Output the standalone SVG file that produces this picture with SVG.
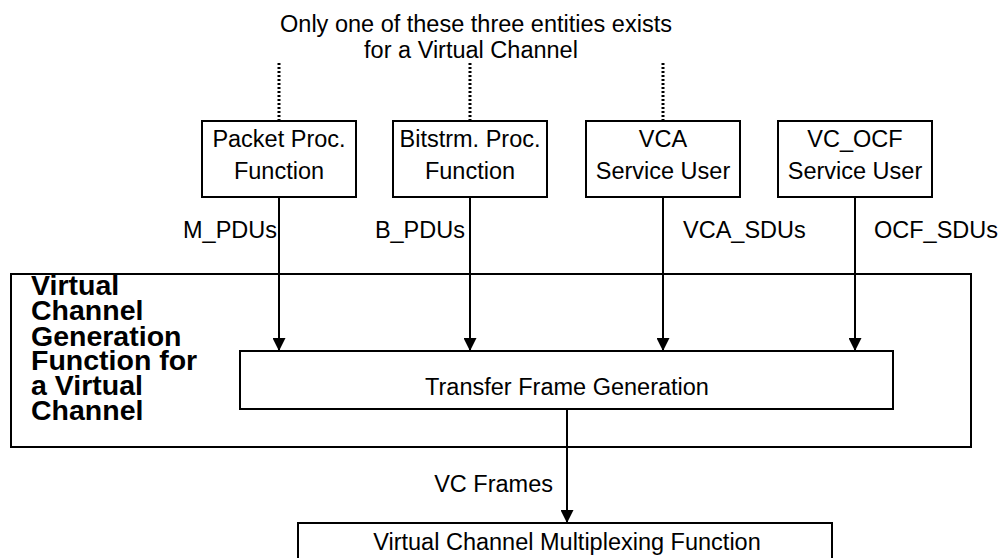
<svg xmlns="http://www.w3.org/2000/svg" width="1002" height="558" viewBox="0 0 1002 558">
<defs>
<style>
.box{fill:#fff;stroke:#000;stroke-width:2}
.t{font-family:"Liberation Sans",Arial,sans-serif;font-size:23.5px;fill:#000;text-anchor:middle}
.lbl{font-family:"Liberation Sans",Arial,sans-serif;font-size:23.5px;fill:#000}
.b{font-family:"Liberation Sans",Arial,sans-serif;font-size:28.5px;font-weight:bold;fill:#000}
.ln{stroke:#000;stroke-width:2;fill:none}
.dot{stroke:#000;stroke-width:3;stroke-dasharray:2 2;fill:none}
</style>
<marker id="ah" viewBox="0 0 13 13" refX="13" refY="6.5" markerWidth="13" markerHeight="13" markerUnits="userSpaceOnUse" orient="auto">
<path d="M0,0 L13,6.5 L0,13 Z" fill="#000"/>
</marker>
</defs>
<rect width="1002" height="558" fill="#fff"/>
<g id="note">
<text class="t" x="476" y="32">Only one of these three entities exists</text>
<text class="t" x="471" y="58">for a Virtual Channel</text>
</g>
<g id="vcgf">
<rect class="box" x="11" y="274" width="960" height="173"/>
<text class="b" x="31" y="295">Virtual</text>
<text class="b" x="31" y="320">Channel</text>
<text class="b" x="31" y="346">Generation</text>
<text class="b" x="31" y="370">Function for</text>
<text class="b" x="31" y="395">a Virtual</text>
<text class="b" x="31" y="420">Channel</text>
</g>
<g id="connectors">
<line class="dot" x1="279" y1="63" x2="279" y2="121"/>
<line class="dot" x1="470" y1="63" x2="470" y2="121"/>
<line class="dot" x1="663" y1="63" x2="663" y2="121"/>
<line class="ln" x1="279" y1="197" x2="279" y2="351" marker-end="url(#ah)"/>
<line class="ln" x1="470" y1="197" x2="470" y2="351" marker-end="url(#ah)"/>
<line class="ln" x1="663" y1="197" x2="663" y2="351" marker-end="url(#ah)"/>
<line class="ln" x1="855" y1="197" x2="855" y2="351" marker-end="url(#ah)"/>
<line class="ln" x1="567" y1="409" x2="567" y2="523" marker-end="url(#ah)"/>
<text class="lbl" x="277" y="238" text-anchor="end">M_PDUs</text>
<text class="lbl" x="465" y="238" text-anchor="end">B_PDUs</text>
<text class="lbl" x="683" y="238">VCA_SDUs</text>
<text class="lbl" x="874" y="238">OCF_SDUs</text>
<text class="lbl" x="553" y="492" text-anchor="end">VC Frames</text>
</g>
<g id="packet">
<rect class="box" x="202" y="121" width="154" height="76"/>
<text class="t" x="279" y="147">Packet Proc.</text>
<text class="t" x="279" y="179">Function</text>
</g>
<g id="bitstream">
<rect class="box" x="393" y="121" width="154" height="76"/>
<text class="t" x="470" y="147">Bitstrm. Proc.</text>
<text class="t" x="470" y="179">Function</text>
</g>
<g id="vca">
<rect class="box" x="586" y="121" width="154" height="76"/>
<text class="t" x="663" y="147">VCA</text>
<text class="t" x="663" y="179">Service User</text>
</g>
<g id="vcocf">
<rect class="box" x="778" y="121" width="154" height="76"/>
<text class="t" x="855" y="147">VC_OCF</text>
<text class="t" x="855" y="179">Service User</text>
</g>
<g id="tfg">
<rect class="box" x="240" y="351" width="653" height="58"/>
<text class="t" x="567" y="395">Transfer Frame Generation</text>
</g>
<g id="vcmux">
<rect class="box" x="298" y="523" width="534" height="50"/>
<text class="t" x="567" y="550">Virtual Channel Multiplexing Function</text>
</g>
</svg>
